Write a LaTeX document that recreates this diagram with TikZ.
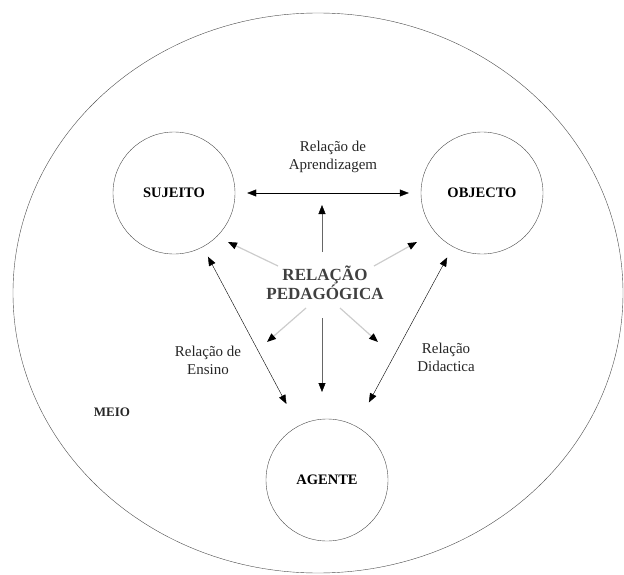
\documentclass[tikz,border=0pt]{standalone}
\usepackage{fontspec}
\setmainfont{Liberation Serif}
\usetikzlibrary{arrows.meta, positioning}

\begin{document}
\begin{tikzpicture}[x=1pt, y=-1pt,
    tip/.style={-{Triangle[length=9pt, width=7pt, black]}},
    dbl/.style={{Triangle[length=9pt, width=7pt]}-{Triangle[length=9pt, width=7pt]}, thin},
    pole/.style={circle, draw=black!70, thin, minimum size=122pt, inner sep=0pt,
        font=\fontsize{14.5}{16}\selectfont\bfseries},
    lbl/.style={align=center, font=\fontsize{15}{18}\selectfont, text=black!85},
    faint/.style={tip, draw=black!20, line width=1.2pt}]

    % contorno do meio
    \useasboundingbox (0,0) rectangle (624,575);
    \draw[black!70, thin] (318,293) ellipse [x radius=305, y radius=280];
    \node[lbl, font=\fontsize{13}{15}\selectfont\bfseries] (meio) at (112,412) {MEIO};

    % os tres polos
    \node[pole] (sujeito) at (174,193) {SUJEITO};
    \node[pole] (objecto) at (482,193) {OBJECTO};
    \node[pole] (agente)  at (327,480) {AGENTE};

    % relacao pedagogica ao centro
    \node[align=center, text=black!75, font=\fontsize{17}{19}\selectfont\bfseries]
        (rel) at (325,283) {RELAÇÃO\\PEDAGÓGICA};

    % relacoes entre os polos
    \draw[dbl] ([xshift=12pt]sujeito.east) -- ([xshift=-12pt]objecto.west);
    \draw[dbl, shorten <=11pt, shorten >=25pt] (sujeito) -- (agente);
    \draw[dbl, shorten <=12pt, shorten >=27pt] (objecto) -- (agente);

    \node[lbl] (aprend)  at (333,157) {Relação de\\Aprendizagem};
    \node[lbl] (ensino)  at (208,360) {Relação de\\Ensino};
    \node[lbl] (didact)  at (446,357) {Relação\\Didactica};

    % setas da relacao pedagogica
    \coordinate (up)  at (322,205);
    \coordinate (dn)  at (322,392);
    \coordinate (ul)  at (228,242);
    \coordinate (ur)  at (417,242);
    \coordinate (ll)  at (267,342);
    \coordinate (lr)  at (378,342);

    \draw[tip, black!60, thin] (322,252) -- (up);
    \draw[tip, black!60, thin] (322,318) -- (dn);
    \draw[faint] (278,266) -- (ul);
    \draw[faint] (374,266) -- (ur);
    \draw[faint] (306,308) -- (ll);
    \draw[faint] (340,308) -- (lr);

\end{tikzpicture}
\end{document}
